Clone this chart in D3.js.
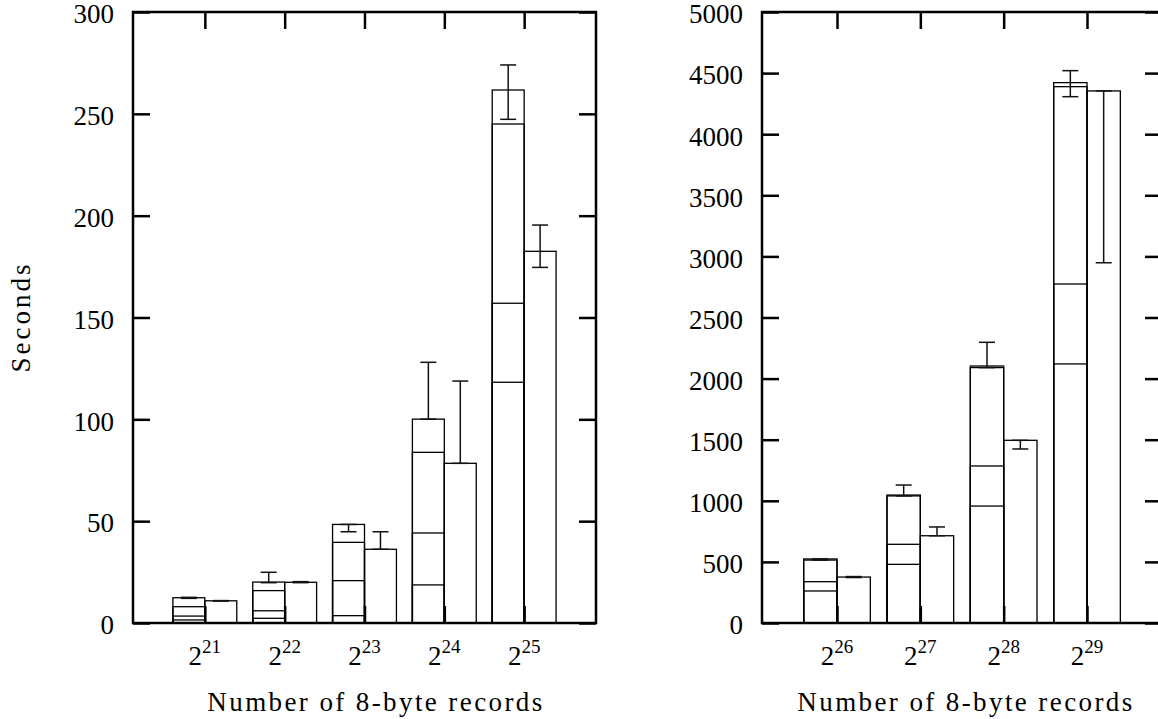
<!DOCTYPE html>
<html>
<head>
<meta charset="utf-8">
<script src="https://cdn.jsdelivr.net/npm/d3@7"></script>
<style>
  body { margin: 0; background: #fff; }
  svg { display: block; }
  text { font-family: "Liberation Serif", "DejaVu Serif", serif; fill: #000; }
</style>
</head>
<body>
<div id="chart"></div>
<script>
"use strict";

// left panel: 2^21 .. 2^25
var sizesLeft = ["21", "22", "23", "24", "25"];
// first bar, cumulative phases (each drawn as its own box from 0)
var stackLeft = [
  [1.5, 3.4, 8.0, 12.4],
  [2.3, 6.0, 15.9, 20.1],
  [3.6, 20.8, 39.6, 48.4],
  [18.7, 44.2, 83.8, 100.1],
  [118.2, 157, 245, 261.7]
];
var errLeftA = [[12.1, 12.6], [19.8, 24.9], [44.8, 48.4], [100.1, 128], [247.3, 274]];
var totalLeftB = [10.9, 20.0, 36.2, 78.4, 182.5];
var errLeftB = [[10.8, 11.0], [19.8, 20.3], [36.2, 44.8], [78.4, 118.8], [174.6, 195.4]];
var ticksLeft = [0, 50, 100, 150, 200, 250, 300];

// right panel: 2^26 .. 2^29
var sizesRight = ["26", "27", "28", "29"];
var stackRight = [
  [262, 338, 515, 524],
  [480, 644, 1040, 1047],
  [957, 1285, 2090, 2103],
  [2120, 2774, 4389, 4422]
];
var errRightA = [[515, 524], [1040, 1129], [2090, 2297], [4307, 4520]];
var totalRightB = [376, 714, 1495, 4354];
var errRightB = [[372, 380], [714, 786], [1424, 1495], [2948, 4354]];
var ticksRight = [0, 500, 1000, 1500, 2000, 2500, 3000, 3500, 4000, 4500, 5000];

var xTitle = "Number of 8-byte records";
var yTitle = "Seconds";

var svg = d3.select("#chart")
  .append("svg")
    .attr("width", 1158)
    .attr("height", 719);

var top_y = 12, bottom_y = 623, tick_len = 17, fontSize = 27;

drawPanel({
  left: 133, right: 596, xdom: [20.1, 25.9], ymax: 300,
  sizes: sizesLeft, stack: stackLeft, errA: errLeftA, totB: totalLeftB, errB: errLeftB,
  ticks: ticksLeft, titleX: 376, ylabel: true
});
drawPanel({
  left: 762, right: 1162, xdom: [25.1, 29.9], ymax: 5000,
  sizes: sizesRight, stack: stackRight, errA: errRightA, totB: totalRightB, errB: errRightB,
  ticks: ticksRight, titleX: 966, ylabel: false
});

function drawPanel(p) {
  var g = svg.append("g");
  var x = d3.scaleLinear().domain(p.xdom).range([p.left, p.right]);
  var y = d3.scaleLinear().domain([0, p.ymax]).range([bottom_y, top_y]);
  var bw = x(0.4) - x(0);
  var pos = p.sizes.map(s => +s);

  // boxes of first bar (one box per phase, all from zero)
  p.stack.forEach(function(vals, i) {
    g.selectAll(null)
      .data(vals)
      .enter()
      .append("rect")
        .attr("x", x(pos[i] - 0.4))
        .attr("width", bw)
        .attr("y", d => y(d))
        .attr("height", d => y(0) - y(d))
        .attr("fill", "none")
        .attr("stroke", "#000")
        .attr("stroke-width", 1.3);
  });

  // second bar
  g.selectAll(null)
    .data(p.totB)
    .enter()
    .append("rect")
      .attr("x", (d, i) => x(pos[i]))
      .attr("width", bw)
      .attr("y", d => y(d))
      .attr("height", d => y(0) - y(d))
      .attr("fill", "none")
      .attr("stroke", "#000")
      .attr("stroke-width", 1.3);

  // error bars
  var errs = [];
  p.errA.forEach((e, i) => errs.push({cx: pos[i] - 0.2, lo: e[0], hi: e[1]}));
  p.errB.forEach((e, i) => errs.push({cx: pos[i] + 0.2, lo: e[0], hi: e[1]}));
  var eg = g.selectAll(null).data(errs).enter().append("g")
    .attr("stroke", "#111").attr("stroke-width", 1.5);
  eg.append("line")
    .attr("x1", d => x(d.cx)).attr("x2", d => x(d.cx))
    .attr("y1", d => y(d.lo)).attr("y2", d => y(d.hi));
  eg.append("line")
    .attr("x1", d => x(d.cx) - 8).attr("x2", d => x(d.cx) + 8)
    .attr("y1", d => y(d.lo)).attr("y2", d => y(d.lo));
  eg.append("line")
    .attr("x1", d => x(d.cx) - 8).attr("x2", d => x(d.cx) + 8)
    .attr("y1", d => y(d.hi)).attr("y2", d => y(d.hi));

  // axes, inward ticks on all four sides
  var yl = g.append("g")
    .attr("transform", "translate(" + p.left + ",0)")
    .call(d3.axisLeft(y).tickValues(p.ticks).tickSize(-tick_len).tickPadding(19)
      .tickFormat(d3.format("d")));
  var yr = g.append("g")
    .attr("transform", "translate(" + p.right + ",0)")
    .call(d3.axisRight(y).tickValues(p.ticks).tickSize(-tick_len).tickFormat(""));
  var xb = g.append("g")
    .attr("transform", "translate(0," + bottom_y + ")")
    .call(d3.axisBottom(x).tickValues(pos).tickSize(-tick_len).tickFormat(""));
  var xt = g.append("g")
    .attr("transform", "translate(0," + top_y + ")")
    .call(d3.axisTop(x).tickValues(pos).tickSize(-tick_len).tickFormat(""));
  [yl, yr, xb, xt].forEach(function(a) {
    a.select(".domain").remove();
    a.selectAll("line").attr("stroke-width", 2.5);
  });
  yl.selectAll("text")
    .style("font-size", fontSize + "px")
    .style("font-family", "'Liberation Serif', serif")
    .attr("dy", "0.4em");

  // frame
  g.append("rect")
    .attr("x", p.left).attr("y", top_y)
    .attr("width", p.right - p.left).attr("height", bottom_y - top_y)
    .attr("fill", "none").attr("stroke", "#000").attr("stroke-width", 2.5);

  // x tick labels 2^n
  var lab = g.selectAll(null)
    .data(p.sizes)
    .enter()
    .append("text")
      .attr("x", d => x(+d))
      .attr("y", 665)
      .attr("text-anchor", "middle")
      .style("font-size", fontSize + "px");
  lab.append("tspan").text("2");
  lab.append("tspan")
    .attr("dy", -12)
    .style("font-size", "19px")
    .text(d => d);

  // x title
  g.append("text")
    .attr("x", p.titleX)
    .attr("y", 711)
    .attr("text-anchor", "middle")
    .style("font-size", fontSize + "px")
    .style("letter-spacing", "2.4px")
    .text(xTitle);

  if (p.ylabel) {
    g.append("text")
      .attr("transform", "translate(30,317) rotate(-90)")
      .attr("text-anchor", "middle")
      .style("font-size", fontSize + "px")
      .style("letter-spacing", "3px")
      .text(yTitle);
  }
}
</script>
</body>
</html>
